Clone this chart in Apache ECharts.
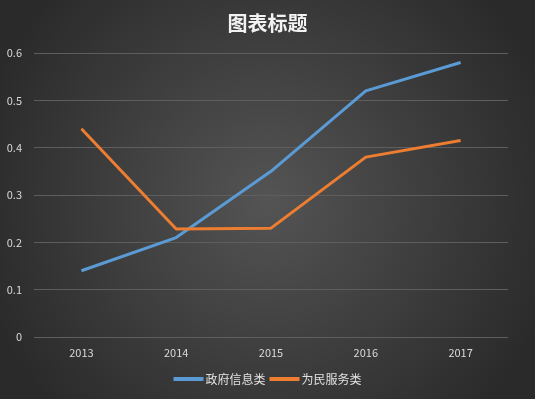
<!DOCTYPE html>
<html><head><meta charset="utf-8">
<script src="https://cdn.jsdelivr.net/npm/echarts@6/dist/echarts.min.js"></script>
<style>html,body{margin:0;padding:0;background:#404040}#c{width:535px;height:399px}</style>
</head><body><div id="c"></div>
<script>
const categories = ['2013','2014','2015','2016','2017'];
const seriesNames = ['政府信息类','为民服务类'];
const govInfo = [0.14, 0.21, 0.35, 0.52, 0.58];
const publicService = [0.44, 0.228, 0.23, 0.38, 0.415];
const yTicks = [0, 0.1, 0.2, 0.3, 0.4, 0.5, 0.6];

const font = '"Noto Sans CJK SC", "Noto Sans", sans-serif';
const chart = echarts.init(document.getElementById('c'));
chart.setOption({
  animation: false,
  backgroundColor: {
    type: 'radial', x: 0.5, y: 0.5, r: 0.75,
    colorStops: [{offset: 0, color: '#545454'}, {offset: 1, color: '#2a2a2a'}]
  },
  title: {
    text: '图表标题', left: 'center', top: 8,
    textStyle: {color: '#f2f2f2', fontSize: 20, fontWeight: 'bold', fontFamily: font}
  },
  legend: {
    data: seriesNames, bottom: 9, left: 'center',
    itemWidth: 30, itemHeight: 4, itemGap: 4,
    icon: 'rect',
    textStyle: {color: '#e0e0e0', fontSize: 12, fontFamily: font, padding: [0,0,0,-3]}
  },
  grid: {left: 34, right: 27, top: 53, bottom: 62},
  xAxis: {
    type: 'category', data: categories, boundaryGap: true,
    axisLine: {show: false}, axisTick: {show: false},
    axisLabel: {color: '#d9d9d9', fontSize: 11, margin: 10, fontFamily: font}
  },
  yAxis: {
    type: 'value', min: yTicks[0], max: yTicks[yTicks.length-1], interval: 0.1,
    axisLine: {show: false}, axisTick: {show: false},
    axisLabel: {color: '#d9d9d9', fontSize: 11, margin: 12, fontFamily: font,
      formatter: v => String(Math.round(v*10)/10)},
    splitLine: {lineStyle: {color: '#5e5e5e', width: 1}}
  },
  series: [
    {name: seriesNames[0], type: 'line', data: govInfo, symbol: 'none',
     lineStyle: {width: 3, color: '#5b9bd5'}, itemStyle: {color: '#5b9bd5'}},
    {name: seriesNames[1], type: 'line', data: publicService, symbol: 'none',
     lineStyle: {width: 3, color: '#ed7d31'}, itemStyle: {color: '#ed7d31'}}
  ]
});
</script></body></html>
